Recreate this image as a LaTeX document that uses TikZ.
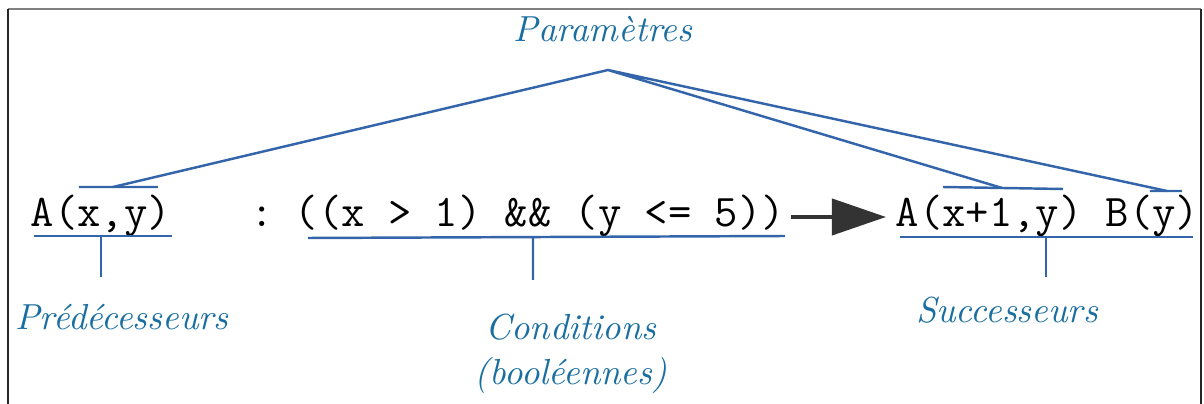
\documentclass[tikz,border=0pt]{standalone}
\usepackage{tikz}
\usetikzlibrary{arrows.meta,positioning,calc}
\definecolor{labblue}{RGB}{26,110,160}
\definecolor{linblue}{RGB}{52,101,170}
\definecolor{arrgray}{RGB}{51,51,51}

\begin{document}
\begin{tikzpicture}[x=0.1mm,y=-0.1mm,
    code/.style={inner sep=0pt,anchor=base west,font=\fontsize{12.9}{15}\selectfont\ttfamily},
    lab/.style={inner sep=0pt,text=labblue,font=\fontsize{10.3}{12.8}\selectfont\itshape},
    brace/.style={linblue,line width=0.7pt},
    bigarrow/.style={arrgray,line width=0.4mm,-{Triangle[length=5.4mm,width=3.6mm]}}]
        \useasboundingbox (0,0) rectangle (1204,404);
        \draw[gray,line width=0.2mm] (8,9) -- (1201,9);
        \draw[black!85,line width=0.2mm] (8,9) -- (8,404) (1201,9) -- (1201,404);
        \node[code] (pred) at (30,227) {A(x,y)};
        \node[code,anchor=base] (colon) at (262,227) {:};
        \node[code] (cond) at (294,227) {((x > 1) \&\& (y <= 5))};
        \node[code] (succ) at (895,227) {A(x+1,y) B(y)};
        \draw[bigarrow] ([shift={(5,-10)}]cond.base east) -- ([shift={(-9,-10)}]succ.base west);
        \node[lab,anchor=base] (param) at (603,42) {Paramètres};
        \node[lab,anchor=base] (predlab) at (122,330) {Prédécesseurs};
        \node[lab,align=center] (condlab) at (571,354) {Conditions\\(booléennes)};
        \node[lab,anchor=base] (succlab) at (1007,323) {Successeurs};
        \coordinate (apex) at (608,70);
        \coordinate (ptop) at (113,187);
        \coordinate (stop1) at (1002,188);
        \coordinate (stop2) at (1167,191);
        \draw[brace] (79,187) -- (158,187) (943,187) -- (1063,189) (1150,191) -- (1182,191);
        \draw[brace] (ptop) -- (apex) -- (stop1) (apex) -- (stop2);
        \coordinate (pbot) at (101,236);
        \coordinate (cbot) at (533,237);
        \coordinate (sbot) at (1046,237);
        \draw[brace] (34,236) -- (172,236) (pbot) -- ++(0,41);
        \draw[brace] (308,238) -- (785,236) (cbot) -- ++(0,43);
        \draw[brace] (900,237) -- (1193,237) (sbot) -- ++(0,40);
      \end{tikzpicture}
\end{document}
